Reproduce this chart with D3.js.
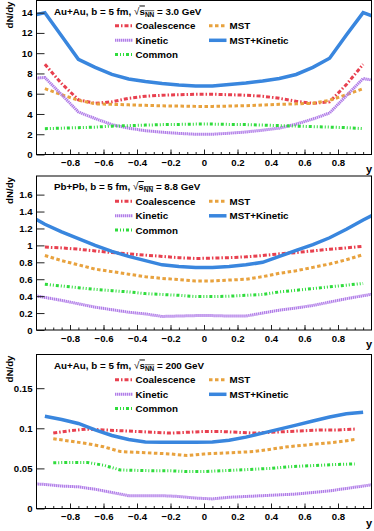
<!DOCTYPE html>
<html lang="en">
<head>
<meta charset="utf-8">
<script src="https://cdn.jsdelivr.net/npm/d3@7"></script>
<style>
    body { margin: 0; background: #fff; }
    text { font-family: "Liberation Sans", Arial, Helvetica, sans-serif; font-weight: bold; fill: #000; }
</style>
</head>
<body>
<svg id="chart" width="374" height="531"></svg>
<script>
// rapidity bin centres
var yBins = [-0.95, -0.85, -0.75, -0.65, -0.55, -0.45, -0.35, -0.25, -0.15, -0.05,
             0.05, 0.15, 0.25, 0.35, 0.45, 0.55, 0.65, 0.75, 0.85, 0.95];
var yBinsWide = [-1.05, -0.95, -0.85, -0.75, -0.65, -0.55, -0.45, -0.35, -0.25, -0.15, -0.05,
                 0.05, 0.15, 0.25, 0.35, 0.45, 0.55, 0.65, 0.75, 0.85, 0.95, 1.05];
var yBins200 = [-0.9, -0.8, -0.7, -0.6, -0.5, -0.4, -0.3, -0.2, -0.1, 0,
                0.1, 0.2, 0.3, 0.4, 0.5, 0.6, 0.7, 0.8, 0.9];

// Au+Au 3.0 GeV
var coal30 = [8.9, 7.0, 5.4, 5.05, 5.2, 5.55, 5.75, 5.85, 5.9, 5.95, 5.95, 5.9, 5.85, 5.75, 5.55, 5.25, 5.05, 5.2, 6.9, 8.9];
var mst30  = [6.5, 5.9, 5.35, 5.0, 4.95, 4.9, 4.85, 4.8, 4.78, 4.75, 4.75, 4.78, 4.82, 4.88, 4.95, 5.0, 5.05, 5.35, 5.9, 6.5];
var kin30  = [7.5, 7.6, 5.9, 4.2, 3.55, 2.95, 2.6, 2.35, 2.2, 2.08, 2.0, 2.0, 2.1, 2.22, 2.4, 2.6, 3.0, 3.5, 4.1, 5.8, 7.5, 7.2];
var sum30  = [13.6, 14.0, 11.7, 9.4, 8.6, 7.9, 7.45, 7.2, 7.0, 6.85, 6.75, 6.75, 6.9, 7.05, 7.25, 7.5, 7.9, 8.6, 9.5, 11.8, 14.0, 13.4];
var com30  = [2.55, 2.6, 2.65, 2.7, 2.8, 2.85, 2.9, 2.95, 2.97, 3.0, 3.0, 2.97, 2.95, 2.9, 2.85, 2.8, 2.75, 2.7, 2.65, 2.55];

// Pb+Pb 8.8 GeV
var coal88 = [0.98, 0.97, 0.955, 0.935, 0.915, 0.9, 0.885, 0.87, 0.855, 0.845, 0.85, 0.855, 0.865, 0.88, 0.9, 0.915, 0.935, 0.955, 0.97, 0.99];
var mst88  = [0.88, 0.82, 0.77, 0.72, 0.69, 0.66, 0.63, 0.61, 0.595, 0.58, 0.58, 0.59, 0.6, 0.63, 0.67, 0.7, 0.74, 0.78, 0.83, 0.89];
var kin88  = [0.42, 0.385, 0.35, 0.31, 0.27, 0.24, 0.21, 0.19, 0.16, 0.165, 0.17, 0.17, 0.165, 0.165, 0.2, 0.235, 0.26, 0.29, 0.33, 0.37, 0.405, 0.44];
var sum88  = [1.36, 1.25, 1.16, 1.08, 1.0, 0.93, 0.87, 0.82, 0.77, 0.75, 0.74, 0.74, 0.75, 0.77, 0.8, 0.87, 0.94, 1.01, 1.09, 1.19, 1.3, 1.4];
var com88  = [0.54, 0.52, 0.5, 0.48, 0.465, 0.45, 0.43, 0.42, 0.41, 0.395, 0.395, 0.4, 0.41, 0.42, 0.45, 0.47, 0.49, 0.51, 0.53, 0.55];

// Au+Au 200 GeV
var coal200 = [0.094, 0.097, 0.099, 0.098, 0.097, 0.096, 0.095, 0.094, 0.095, 0.096, 0.096, 0.095, 0.094, 0.095, 0.096, 0.097, 0.098, 0.098, 0.099];
var mst200  = [0.087, 0.084, 0.081, 0.077, 0.071, 0.07, 0.069, 0.068, 0.066, 0.068, 0.069, 0.07, 0.071, 0.074, 0.077, 0.079, 0.081, 0.083, 0.086];
var kin200  = [0.031, 0.03, 0.028, 0.027, 0.024, 0.02, 0.016, 0.016, 0.016, 0.015, 0.013, 0.012, 0.014, 0.015, 0.016, 0.017, 0.018, 0.02, 0.022, 0.025, 0.028, 0.031];
var sum200  = [0.115, 0.111, 0.106, 0.098, 0.091, 0.086, 0.083, 0.0825, 0.0825, 0.0825, 0.083, 0.085, 0.089, 0.094, 0.099, 0.104, 0.109, 0.114, 0.118, 0.12];
var com200  = [0.057, 0.0575, 0.0575, 0.054, 0.048, 0.0475, 0.047, 0.047, 0.046, 0.046, 0.047, 0.048, 0.049, 0.05, 0.052, 0.053, 0.054, 0.055, 0.0555];

var xTicks = [-0.8, -0.6, -0.4, -0.2, 0, 0.2, 0.4, 0.6, 0.8];
var yTicks30 = [0, 2, 4, 6, 8, 10, 12, 14];
var yTicks88 = [0, 0.2, 0.4, 0.6, 0.8, 1, 1.2, 1.4, 1.6];
var yTicks200 = [0, 0.05, 0.1, 0.15];

var seriesNames = ['Coalescence', 'MST', 'Kinetic', 'MST+Kinetic', 'Common'];

// line styles per series
var styles = {
    'Coalescence': {color: '#e8404f', width: 3, dash: '4,2,1.5,2'},
    'MST':         {color: '#e8a23e', width: 3, dash: '3.5,2.5'},
    'Kinetic':     {color: '#b07ce8', width: 3, dash: '1.4,0.6'},
    'MST+Kinetic': {color: '#3986de', width: 3.5, dash: null},
    'Common':      {color: '#2fdc3c', width: 3, dash: '3,2,1,2,1,2'}
};

var panels = [
    {top: 0.5, ymax: 15.2, ticks: yTicks30, system: 'Au+Au', energy: '3.0',
     series: [[yBins, coal30], [yBins, mst30], [yBinsWide, kin30], [yBinsWide, sum30], [yBins, com30]]},
    {top: 176, ymax: 1.82, ticks: yTicks88, system: 'Pb+Pb', energy: '8.8',
     series: [[yBins, coal88], [yBins, mst88], [yBinsWide, kin88], [yBinsWide, sum88], [yBins, com88]]},
    {top: 354.5, ymax: 0.192, ticks: yTicks200, system: 'Au+Au', energy: '200',
     series: [[yBins200, coal200], [yBins200, mst200], [yBinsWide, kin200], [yBins, sum200], [yBins200, com200]]}
];

var svg = d3.select('#chart');
var left = 36.5, right = 371.5, h = 154;
var fs = 9.8;

var x = d3.scaleLinear().domain([-1, 1]).range([left, right]);

panels.forEach(function (p, pi) {
    var g = svg.append('g').attr('transform', 'translate(0,' + p.top + ')');
    var y = d3.scaleLinear().domain([0, p.ymax]).range([h, 0]);

    svg.append('clipPath').attr('id', 'clip' + pi)
        .append('rect').attr('x', left).attr('y', 0).attr('width', right - left).attr('height', h);

    // curves
    var lg = g.append('g').attr('clip-path', 'url(#clip' + pi + ')');
    p.series.forEach(function (s, si) {
        var st = styles[seriesNames[si]];
        var pts = s[0].map(function (v, i) { return [v, s[1][i]]; });
        lg.append('path')
            .datum(pts)
            .attr('d', d3.line().x(function (d) { return x(d[0]); }).y(function (d) { return y(d[1]); }))
            .attr('fill', 'none')
            .attr('stroke', st.color)
            .attr('stroke-width', st.width)
            .attr('stroke-dasharray', st.dash);
    });

    // axes (ticks inside the frame, ROOT style)
    var yAx = g.append('g').attr('transform', 'translate(' + left + ',0)')
        .call(d3.axisLeft(y).tickValues(p.ticks).tickSize(-8).tickPadding(4).tickFormat(d3.format('~g')));
    var xAx = g.append('g').attr('transform', 'translate(0,' + h + ')')
        .call(d3.axisBottom(x).tickValues(xTicks).tickSize(-5).tickPadding(5).tickFormat(d3.format('~g')));
    var xMinor = g.append('g').attr('transform', 'translate(0,' + h + ')')
        .call(d3.axisBottom(x).tickValues(d3.range(-19, 20).map(function (k) { return k * 0.05; })).tickSize(-2.5).tickFormat(''));
    [yAx, xAx, xMinor].forEach(function (a) {
        a.select('.domain').remove();
        a.selectAll('line').attr('stroke', '#222');
        a.selectAll('text').attr('font-size', 9.6).attr('font-family', null);
    });

    g.append('rect')
        .attr('x', left).attr('y', 0).attr('width', right - left).attr('height', h)
        .attr('fill', 'none').attr('stroke', '#000').attr('stroke-width', 1);

    // axis titles
    g.append('text')
        .attr('transform', 'translate(13,1) rotate(-90)')
        .attr('text-anchor', 'end')
        .attr('font-size', 9.7)
        .text('dN/dy');
    g.append('text')
        .attr('x', 372).attr('y', h + 18)
        .attr('text-anchor', 'end')
        .attr('font-size', 11)
        .text('y');

    // header: system, b and sqrt(s_NN)
    var t = g.append('text').attr('x', 54).attr('y', 14).attr('font-size', fs);
    t.append('tspan').text(p.system + ', b = 5 fm, ');
    t.append('tspan').attr('font-weight', 'normal').text('\u221A');
    t.append('tspan').style('text-decoration', 'overline').text('s');
    t.append('tspan').attr('font-size', 6.5).attr('dy', 2).style('text-decoration', 'overline').text('NN');
    t.append('tspan').attr('dy', -2).text(' = ' + p.energy + ' GeV');

    // legend
    var leg = [
        {name: 'Coalescence', x: 115, y: 25.3},
        {name: 'MST', x: 209, y: 25.3},
        {name: 'Kinetic', x: 115, y: 39.8},
        {name: 'MST+Kinetic', x: 209, y: 39.8},
        {name: 'Common', x: 115, y: 54}
    ];
    leg.forEach(function (e) {
        var st = styles[e.name];
        g.append('line')
            .attr('x1', e.x).attr('x2', e.x + 17.5)
            .attr('y1', e.y).attr('y2', e.y)
            .attr('stroke', st.color)
            .attr('stroke-width', st.width)
            .attr('stroke-dasharray', st.dash);
        g.append('text')
            .attr('x', e.x + 20.5).attr('y', e.y + 3.5)
            .attr('font-size', fs)
            .text(e.name);
    });
});
</script>
</body>
</html>
